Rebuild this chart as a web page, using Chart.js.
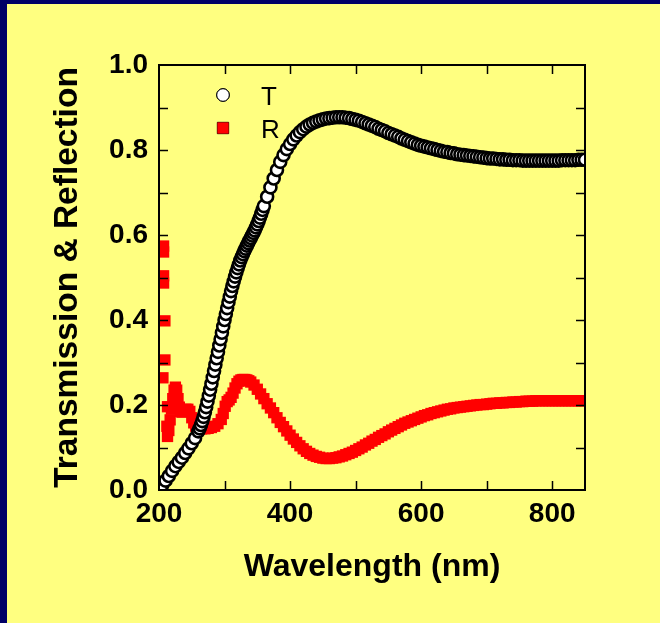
<!DOCTYPE html>
<html>
<head>
<meta charset="utf-8">
<title>Transmission & Reflection</title>
<script src="https://cdn.jsdelivr.net/npm/chart.js@4.4.1/dist/chart.umd.min.js"></script>
<style>
    html, body { margin: 0; padding: 0; background: #FFFF80; }
    #wrap {
        width: 653px;
        height: 619px;
        background: #FFFF80;
        border-top: 4px solid #000066;
        border-left: 7px solid #000066;
    }
    canvas { display: block; }
</style>
</head>
<body>
<div id="wrap"><canvas id="tr" width="653" height="619"></canvas></div>
<script>
// Transmission (T) sampling and values
const tWave = [
    200, 205, 210, 215, 220, 225, 230, 235, 240, 245, 250, 255,
    260, 262, 264, 266, 268, 270, 272, 274, 276, 278,
    280, 282, 284, 286, 288, 290, 292, 294, 296, 298,
    300, 302, 304, 306, 308, 310, 312, 314, 316, 318,
    320, 322, 324, 326, 328, 330, 332, 334, 336, 338,
    340, 342, 344, 346, 348, 350, 352, 354, 356, 358, 360,
    365, 370, 375, 380, 385, 390, 395, 400, 405, 410,
    415, 420, 425, 430, 435, 440, 445, 450, 455, 460,
    465, 470, 475, 480, 485, 490, 495, 500, 505, 510,
    515, 520, 525, 530, 535, 540, 545, 550, 555, 560,
    565, 570, 575, 580, 585, 590, 595, 600, 605, 610,
    615, 620, 625, 630, 635, 640, 645, 650, 655, 660,
    665, 670, 675, 680, 685, 690, 695, 700, 705, 710,
    715, 720, 725, 730, 735, 740, 745, 750, 755, 760,
    765, 770, 775, 780, 785, 790, 795, 800, 805, 810,
    815, 820, 825, 830, 835, 840, 845, 850
];
const tVal = [
    0.005, 0.012, 0.022, 0.033, 0.045, 0.056, 0.066, 0.076, 0.087, 0.098, 0.110, 0.122,
    0.138, 0.145, 0.153, 0.162, 0.172, 0.183, 0.195, 0.208, 0.222, 0.236,
    0.250, 0.265, 0.280, 0.295, 0.310, 0.325, 0.340, 0.355, 0.370, 0.385,
    0.400, 0.414, 0.428, 0.442, 0.455, 0.468, 0.480, 0.491, 0.502, 0.512,
    0.522, 0.531, 0.540, 0.548, 0.555, 0.562, 0.568, 0.575, 0.581, 0.587,
    0.593, 0.599, 0.605, 0.611, 0.618, 0.625, 0.633, 0.641, 0.650, 0.659, 0.668,
    0.690, 0.712, 0.733, 0.753, 0.772, 0.788, 0.802, 0.814, 0.825, 0.834,
    0.842, 0.849, 0.855, 0.860, 0.864, 0.867, 0.870, 0.872, 0.874, 0.875,
    0.876, 0.877, 0.877, 0.877, 0.876, 0.875, 0.873, 0.871, 0.869, 0.866,
    0.863, 0.860, 0.857, 0.854, 0.850, 0.847, 0.844, 0.840, 0.837, 0.834,
    0.831, 0.827, 0.824, 0.821, 0.818, 0.815, 0.812, 0.810, 0.808, 0.806,
    0.804, 0.802, 0.800, 0.798, 0.796, 0.795, 0.793, 0.792, 0.790, 0.789,
    0.788, 0.787, 0.786, 0.785, 0.784, 0.783, 0.782, 0.781, 0.780, 0.780,
    0.779, 0.778, 0.778, 0.777, 0.777, 0.776, 0.776, 0.776, 0.775, 0.775,
    0.775, 0.775, 0.775, 0.775, 0.775, 0.775, 0.775, 0.775, 0.775, 0.775,
    0.776, 0.776, 0.776, 0.776, 0.776, 0.777, 0.777, 0.777
];

// Reflection (R) sampling and values
const rWave = [
    206, 207, 207, 207, 207, 209, 209, 212, 213, 213,
    215, 217, 219, 221, 223, 225, 227, 229, 231, 233,
    235, 238, 241, 244, 247, 250, 253, 256, 260, 265,
    270, 275, 280, 285, 290, 295, 298, 301, 304, 307,
    310, 313, 316, 319, 322, 325, 328, 331, 334, 337,
    340, 345, 350, 355, 360, 365, 370, 375, 380, 385,
    390, 395, 400, 405, 410, 415, 420, 425, 430, 435,
    440, 445, 450, 455, 460, 465, 470, 475, 480, 485,
    490, 495, 500, 505, 510, 515, 520, 525, 530, 535,
    540, 545, 550, 555, 560, 565, 570, 575, 580, 585,
    590, 595, 600, 605, 610, 615, 620, 625, 630, 635,
    640, 645, 650, 655, 660, 665, 670, 675, 680, 685,
    690, 695, 700, 705, 710, 715, 720, 725, 730, 735,
    740, 745, 750, 755, 760, 765, 770, 775, 780, 785,
    790, 795, 800, 805, 810, 815, 820, 825, 830, 835,
    840, 845, 850
];
const rVal = [
    0.264, 0.574, 0.560, 0.504, 0.487, 0.398, 0.306, 0.150, 0.196, 0.126,
    0.140, 0.165, 0.190, 0.215, 0.235, 0.242, 0.235, 0.215, 0.195, 0.185,
    0.183, 0.186, 0.190, 0.190, 0.185, 0.170, 0.158, 0.150, 0.146, 0.144,
    0.144, 0.145, 0.147, 0.150, 0.156, 0.166, 0.180, 0.197, 0.208, 0.212,
    0.218, 0.228, 0.240, 0.250, 0.256, 0.259, 0.260, 0.260, 0.259, 0.257,
    0.254, 0.247, 0.237, 0.226, 0.215, 0.203, 0.193, 0.182, 0.170, 0.159,
    0.149, 0.139, 0.129, 0.120, 0.112, 0.104, 0.097, 0.091, 0.086, 0.082,
    0.079, 0.077, 0.075, 0.074, 0.074, 0.075, 0.076, 0.078, 0.080, 0.083,
    0.086, 0.089, 0.093, 0.097, 0.101, 0.106, 0.110, 0.115, 0.119, 0.124,
    0.128, 0.132, 0.137, 0.141, 0.145, 0.149, 0.153, 0.157, 0.160, 0.163,
    0.166, 0.169, 0.172, 0.175, 0.177, 0.180, 0.182, 0.184, 0.186, 0.188,
    0.190, 0.191, 0.193, 0.194, 0.195, 0.196, 0.197, 0.198, 0.199, 0.200,
    0.201, 0.201, 0.202, 0.203, 0.204, 0.204, 0.205, 0.205, 0.206, 0.206,
    0.207, 0.207, 0.208, 0.208, 0.209, 0.209, 0.209, 0.210, 0.210, 0.210,
    0.210, 0.210, 0.210, 0.210, 0.210, 0.210, 0.210, 0.210, 0.210, 0.210,
    0.210, 0.210, 0.210
];

// Axis labels and tick marks
const xLabels = [200, 400, 600, 800];
const xMarks = [300, 400, 500, 600, 700, 800];
const yMarks = [0.1, 0.2, 0.3, 0.4, 0.5, 0.6, 0.7, 0.8, 0.9];
const seriesNames = ['T', 'R'];

const toPoints = (xs, ys) => xs.map((x, i) => ({ x: x, y: ys[i] }));

// frame round the plot with inward ticks on all four sides
const frameTicks = {
    id: 'frameTicks',
    afterDatasetsDraw(chart) {
        const { ctx, chartArea: a, scales } = chart;
        const len = 9;
        ctx.save();
        ctx.strokeStyle = '#000';
        ctx.lineWidth = 1.5;
        ctx.beginPath();
        xMarks.forEach(v => {
            const px = Math.round(scales.x.getPixelForValue(v)) + 0.5;
            ctx.moveTo(px, a.bottom); ctx.lineTo(px, a.bottom - len);
            ctx.moveTo(px, a.top); ctx.lineTo(px, a.top + len);
        });
        yMarks.forEach(v => {
            const py = Math.round(scales.y.getPixelForValue(v)) + 0.5;
            ctx.moveTo(a.left, py); ctx.lineTo(a.left + len, py);
            ctx.moveTo(a.right, py); ctx.lineTo(a.right - len, py);
        });
        ctx.stroke();
        ctx.lineWidth = 2;
        ctx.strokeRect(a.left, a.top, a.right - a.left, a.bottom - a.top);
        ctx.restore();
    }
};

// legend drawn inside the plot, top left
const innerLegend = {
    id: 'innerLegend',
    afterDraw(chart) {
        const { ctx, chartArea: a } = chart;
        ctx.save();
        chart.data.datasets.forEach((ds, i) => {
            const cy = a.top + 30 + i * 33;
            Chart.helpers.drawPoint(ctx, {
                pointStyle: ds.pointStyle,
                radius: ds.pointStyle === 'rect' ? 8 : 6.3,
                borderWidth: 1,
                rotation: 0
            }, a.left + 64, cy);
            ctx.fillStyle = ds.backgroundColor;
            ctx.strokeStyle = ds.borderColor;
            ctx.lineWidth = 1;
            ctx.fill();
            if (ds.pointStyle !== 'rect') ctx.stroke();
            ctx.fillStyle = '#000';
            ctx.font = '26px "Liberation Sans", Arial, sans-serif';
            ctx.textBaseline = 'alphabetic';
            ctx.textAlign = 'left';
            ctx.fillText(ds.label, a.left + 102, cy + 10);
        });
        ctx.restore();
    }
};

const tickFont = { family: '"Liberation Sans", Arial, sans-serif', size: 28, weight: 'bold' };
const xTitleFont = { family: '"Liberation Sans", Arial, sans-serif', size: 32, weight: 'bold' };
const yTitleFont = { family: '"Liberation Sans", Arial, sans-serif', size: 33.5, weight: 'bold' };

new Chart(document.getElementById('tr'), {
    type: 'scatter',
    data: {
        datasets: [{
            label: seriesNames[0],
            data: toPoints(tWave, tVal),
            pointStyle: 'circle',
            pointRadius: 6,
            backgroundColor: '#ffffff',
            borderColor: '#000000',
            borderWidth: 2.6,
            clip: 0
        }, {
            label: seriesNames[1],
            data: toPoints(rWave, rVal),
            pointStyle: 'rect',
            pointRadius: 8,
            backgroundColor: '#ff0000',
            borderColor: '#ff0000',
            borderWidth: 0,
            clip: 0
        }]
    },
    options: {
        responsive: false,
        animation: false,
        events: [],
        layout: { padding: { top: 61, right: 75, left: 0, bottom: 0 } },
        plugins: {
            legend: { display: false },
            tooltip: { enabled: false }
        },
        scales: {
            x: {
                type: 'linear',
                min: 200,
                max: 850,
                afterBuildTicks: scale => { scale.ticks = xLabels.map(v => ({ value: v })); },
                afterFit: scale => { scale.height = 133; },
                grid: { display: false, drawTicks: false },
                border: { display: false },
                ticks: { color: '#000', font: tickFont, padding: 7, maxRotation: 0 },
                title: { display: true, text: 'Wavelength (nm)', color: '#000', font: xTitleFont, padding: { top: 0, bottom: 37 } }
            },
            y: {
                min: 0,
                max: 1,
                afterFit: scale => { scale.width = 152; },
                grid: { display: false, drawTicks: false },
                border: { display: false },
                ticks: { stepSize: 0.2, color: '#000', font: tickFont, padding: 11, callback: v => v.toFixed(1) },
                title: { display: true, text: 'Transmission & Reflection', color: '#000', font: yTitleFont, padding: { top: 41, bottom: 0 } }
            }
        }
    },
    plugins: [frameTicks, innerLegend]
});
</script>
</body>
</html>
